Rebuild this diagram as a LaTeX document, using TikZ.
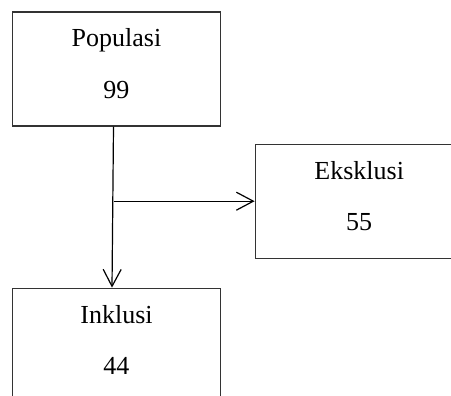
\documentclass[tikz,border=0pt]{standalone}
\usepackage{fontspec}
\setmainfont{Liberation Serif}
\usetikzlibrary{arrows.meta, positioning}

\begin{document}
\begin{tikzpicture}[
    x=0.5pt, y=-0.5pt,
    font=\fontsize{13}{15.6}\selectfont,
    box/.style={
      draw=black!80, line width=0.6pt,
      minimum width=104pt, align=center, inner sep=0pt,
      text height=43.2pt, text depth=13.8pt
    },
    arr/.style={-{Straight Barb[length=8.5pt, width=9pt]}, line width=0.6pt}
  ]
  \useasboundingbox (0,0) rectangle (451,396);
  \node[box] at (116.5,69) (pop) {Populasi\\[10.2pt]99};
  \node[box, below right=8.5pt and 16.75pt of pop] (eks) {Eksklusi\\[10.2pt]55};
  \node[box, below=80.5pt of pop] (ink) {Inklusi\\[10.2pt]44};
  \coordinate (top) at ([xshift=-1.5pt]pop.south);
  \coordinate (fork) at (top |- eks.west);
  \draw[arr] (top) -- ([xshift=-2.25pt]ink.north);
  \draw[arr] (fork) -- (eks.west);
\end{tikzpicture}
\end{document}
